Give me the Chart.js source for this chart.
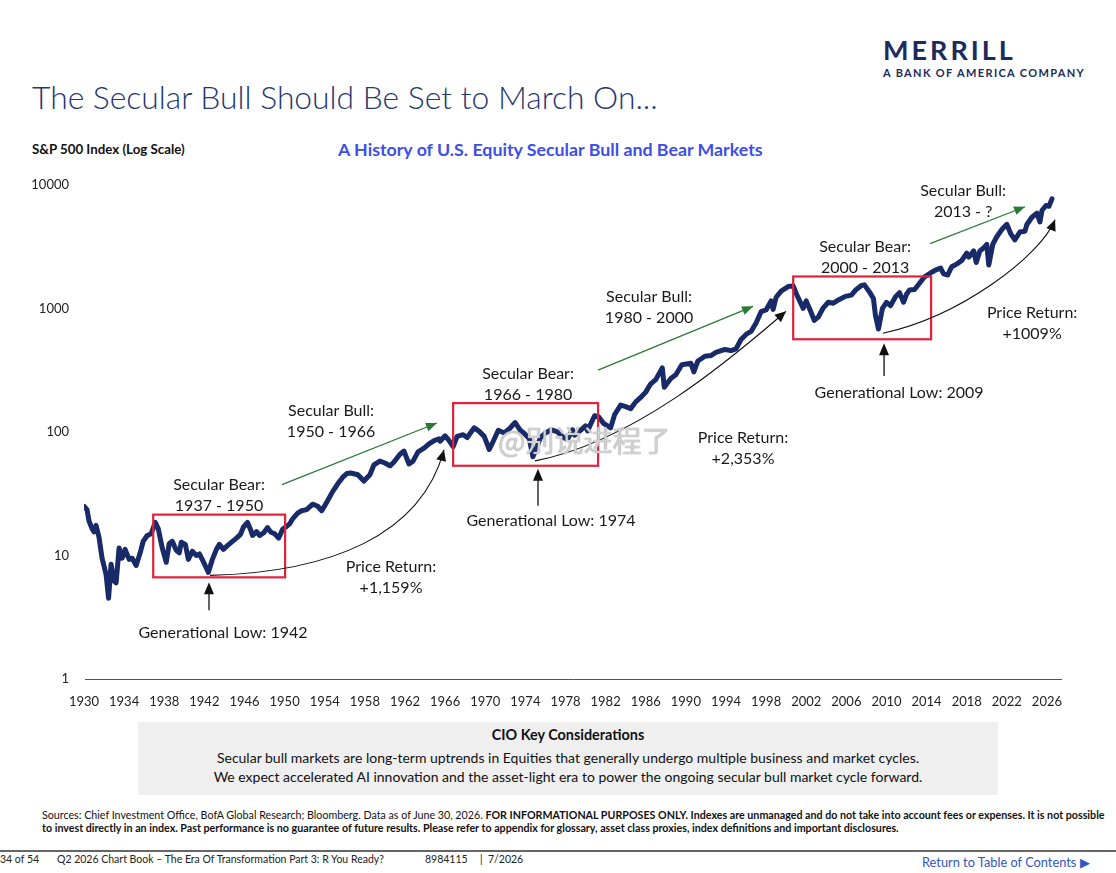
<!DOCTYPE html>
<html>
<head>
<meta charset="utf-8">
<script src="https://cdn.jsdelivr.net/npm/chart.js@4.4.1/dist/chart.umd.min.js"></script>
<style>
  body { margin: 0; background: #fff; font-family: Lato, "Open Sans", sans-serif; }
  #page { position: relative; width: 1116px; height: 873px; overflow: hidden; }
  .abs { position: absolute; white-space: nowrap; }
  #logo1 { left: 883px; top: 33px; font-size: 27px; font-weight: 700; letter-spacing: 3px; color: #1d2a5c; }
  #logo2 { left: 883px; top: 66px; font-size: 11px; font-weight: 700; letter-spacing: 1.35px; color: #1d2a5c; }
  #title { left: 32px; top: 78px; font-size: 31.8px; font-weight: 300; color: #1f3870; }
  #ylab { left: 32px; top: 141px; font-size: 13.3px; font-weight: 700; color: #111; }
  #sub { left: 338px; top: 138px; font-size: 17.8px; font-weight: 700; color: #3d4fe6; }
  #c { position: absolute; left: 0; top: 170px; }
  #wm { left: 498px; top: 418px; font-family: "Noto Sans CJK SC", sans-serif; font-size: 29px; color: rgba(255,255,255,0.55);
        text-shadow: 0 0 1px #999, 0 0 1px #999; }
  #cio { left: 138px; top: 722px; width: 860px; height: 73px; background: #efefef; text-align: center; color: #111; font-size: 14px; line-height: 19px; }
  #cio .h { font-weight: 700; margin-top: 3px; font-size: 14.4px; }
  #cio .l { margin-top: 4px; }
  #cio .l2 { margin-top: 0; }
  #src { left: 42px; top: 808px; font-size: 10.7px; color: #111; line-height: 13px; }
  #rule { left: 0; top: 850px; width: 1116px; height: 2px; background: #666; }
  .foot { top: 853px; font-size: 10.5px; color: #222; }
  #toc { left: 922px; top: 854px; font-size: 12.8px; color: #2f55c8; }
</style>
</head>
<body>
<div id="page">
  <div class="abs" id="logo1">MERRILL</div>
  <div class="abs" id="logo2">A BANK OF AMERICA COMPANY</div>
  <div class="abs" id="title">The Secular Bull Should Be Set to March On...</div>
  <div class="abs" id="ylab">S&amp;P 500 Index (Log Scale)</div>
  <div class="abs" id="sub">A History of U.S. Equity Secular Bull and Bear Markets</div>
  <canvas id="c" width="1116" height="540"></canvas>
  <div class="abs" id="wm">@别说进程了</div>
  <div class="abs" id="cio">
    <div class="h">CIO Key Considerations</div>
    <div class="l">Secular bull markets are long-term uptrends in Equities that generally undergo multiple business and market cycles.</div>
    <div class="l2">We expect accelerated AI innovation and the asset-light era to power the ongoing secular bull market cycle forward.</div>
  </div>
  <div class="abs" id="src">Sources: Chief Investment Office, BofA Global Research; Bloomberg. Data as of June 30, 2026. <b>FOR INFORMATIONAL PURPOSES ONLY. Indexes are unmanaged and do not take into account fees or expenses. It is not possible</b><br><b>to invest directly in an index. Past performance is no guarantee of future results. Please refer to appendix for glossary, asset class proxies, index definitions and important disclosures.</b></div>
  <div class="abs" id="rule"></div>
  <div class="abs foot" style="left:0">34 of 54</div>
  <div class="abs foot" style="left:57px">Q2 2026 Chart Book – The Era Of Transformation Part 3: R You Ready?</div>
  <div class="abs foot" style="left:425px">8984115</div>
  <div class="abs foot" style="left:480px">| &nbsp;7/2026</div>
  <div class="abs" id="toc">Return to Table of Contents ▶</div>
</div>
<script>
// S&P 500 level (decimal year, index level)
const years = [
  1930.0, 1930.3, 1930.5, 1930.8, 1931.0, 1931.2, 1931.5, 1931.8, 1932.0, 1932.2,
  1932.45, 1932.7, 1933.0, 1933.2, 1933.5, 1933.8, 1934.1, 1934.5, 1934.8, 1935.2,
  1935.6, 1935.9, 1936.3, 1936.7, 1937.1, 1937.4, 1937.8, 1938.2, 1938.5, 1938.8,
  1939.2, 1939.5, 1939.7, 1940.1, 1940.4, 1940.8, 1941.2, 1941.5, 1941.9, 1942.4,
  1942.8, 1943.2, 1943.5, 1943.9, 1944.3, 1944.8, 1945.2, 1945.6, 1945.9, 1946.3,
  1946.6, 1946.8, 1947.2, 1947.5, 1947.9, 1948.3, 1948.6, 1949.0, 1949.4, 1949.8,
  1950.2, 1950.5, 1950.8, 1951.3, 1951.7, 1952.2, 1952.8, 1953.3, 1953.7, 1954.2,
  1954.8, 1955.3, 1955.8, 1956.2, 1956.6, 1957.3, 1957.9, 1958.5, 1958.9, 1959.5,
  1960.0, 1960.5, 1960.9, 1961.5, 1961.9, 1962.4, 1962.8, 1963.3, 1963.9, 1964.4,
  1964.9, 1965.4, 1965.5, 1966.0, 1966.4, 1966.8, 1967.2, 1967.8, 1968.2, 1968.9,
  1969.4, 1969.9, 1970.4, 1970.8, 1971.3, 1971.9, 1972.5, 1972.98, 1973.5, 1973.9,
  1974.4, 1974.75, 1975.0, 1975.5, 1976.0, 1976.6, 1977.2, 1977.8, 1978.2, 1978.7,
  1978.9, 1979.5, 1980.0, 1980.2, 1980.9, 1981.3, 1981.8, 1982.5, 1982.9, 1983.5,
  1984.0, 1984.5, 1985.0, 1985.5, 1986.0, 1986.5, 1987.0, 1987.65, 1987.85, 1988.5,
  1989.0, 1989.6, 1990.5, 1990.8, 1991.2, 1991.9, 1992.5, 1993.0, 1993.9, 1994.5,
  1995.0, 1995.5, 1996.0, 1996.5, 1997.0, 1997.5, 1998.0, 1998.5, 1998.7, 1999.0,
  1999.5, 2000.2, 2000.7, 2001.0, 2001.7, 2002.0, 2002.5, 2002.8, 2003.2, 2003.7,
  2004.2, 2004.7, 2005.3, 2005.9, 2006.5, 2006.9, 2007.5, 2007.8, 2008.3, 2008.7,
  2008.9, 2009.2, 2009.6, 2010.0, 2010.4, 2010.9, 2011.3, 2011.7, 2012.0, 2012.3,
  2012.8, 2013.2, 2013.8, 2014.5, 2015.0, 2015.4, 2015.7, 2016.1, 2016.5, 2017.0,
  2017.5, 2018.0, 2018.2, 2018.7, 2018.95, 2019.3, 2019.8, 2020.0, 2020.2, 2020.6,
  2021.0, 2021.5, 2022.0, 2022.4, 2022.8, 2023.3, 2023.8, 2024.0, 2024.5, 2025.0,
  2025.3, 2025.5, 2025.9, 2026.2, 2026.5
];
const spx = [
  25, 23.5, 19, 16.5, 15.5, 17.5, 14, 9.5, 8.2, 7,
  4.5, 8.5, 6.2, 6, 11.5, 9.5, 11.2, 9.3, 9.5, 8.3,
  10.5, 13, 14.5, 15, 18.5, 16.5, 11.5, 8.8, 12.5, 13,
  11, 10.5, 12.8, 12.3, 9.3, 10.8, 10, 10.3, 8.9, 7.3,
  9.3, 11.2, 12.3, 11.2, 12, 13, 13.8, 14.8, 17, 18.5,
  16.2, 14.5, 15.6, 14.5, 15.2, 16.8, 15.5, 15, 13.8, 16.3,
  17.2, 18, 19.8, 22, 23, 23.5, 26, 25, 23, 27,
  33, 38, 43, 46, 46.5, 45, 40, 45, 54, 58,
  56, 53, 57, 66, 70, 55, 58, 69, 74, 80,
  85, 88, 84, 93, 85, 76, 92, 95, 90, 108,
  101, 92, 72, 84, 103, 98, 108, 119, 103, 97,
  88, 63, 70, 90, 98, 104, 100, 90, 87, 104,
  94, 103, 112, 102, 135, 133, 117, 108, 138, 165,
  160, 154, 175, 190, 210, 245, 265, 330, 230, 270,
  290, 350, 360, 306, 375, 410, 415, 440, 465, 455,
  470, 560, 615, 650, 760, 940, 970, 1150, 980, 1230,
  1380, 1500, 1520, 1320, 1000, 1150, 920, 800, 850, 1010,
  1120, 1100, 1180, 1250, 1280, 1400, 1530, 1550, 1360, 1200,
  880, 680, 1000, 1120, 1050, 1240, 1340, 1120, 1300, 1410,
  1420, 1560, 1800, 1960, 2060, 2120, 1900, 1860, 2170, 2280,
  2440, 2800, 2600, 2920, 2350, 2900, 3150, 3300, 2240, 3300,
  3800, 4350, 4790, 4000, 3580, 4150, 4200, 4770, 5460, 5900,
  5000, 6200, 6800, 6700, 7700
];
const xTickYears = [1930, 1934, 1938, 1942, 1946, 1950, 1954, 1958, 1962, 1966, 1970, 1974, 1978,
  1982, 1986, 1990, 1994, 1998, 2002, 2006, 2010, 2014, 2018, 2022, 2026];
const yTickValues = [1, 10, 100, 1000, 10000];

// annotation layout, in axis units (year, index level)
const boxes = [ // [x0, x1, yLow, yHigh]
  [1936.9, 1950.05, 6.65, 21.4],
  [1966.8, 1981.25, 53.2, 171],
  [2000.7, 2014.45, 562, 1811]
];
const lowArrows = [ // [x, yFrom, yTip]
  [1942.46, 3.6, 6.06],
  [1975.26, 25.3, 50.3],
  [2009.76, 283, 522]
];
const returnCurves = [ // start, cp1, cp2, end
  [[1942.56, 6.9], [1954.53, 7.29], [1963.6, 14.5], [1965.89, 71.6]],
  [[1974.96, 58.3], [1985.43, 84.6], [1995.9, 494], [1999.99, 946]],
  [[2009.66, 629], [2017.34, 861], [2025.31, 2626], [2026.81, 5220]]
];
const bullArrows = [
  [[1949.74, 37.4], [1965.19, 118]],
  [[1981.25, 316], [1996.7, 1038]],
  [[2014.35, 3343], [2023.82, 6650]]
];
const labels = [ // [x, y of first line, line1, line2]
  [1943.46, 37.4, "Secular Bear:", "1937 - 1950"],
  [1954.63, 147.6, "Secular Bull:", "1950 - 1966"],
  [1960.61, 8.15, "Price Return:", "+1,159%"],
  [1974.27, 293.6, "Secular Bear:", "1966 - 1980"],
  [1986.33, 1250, "Secular Bull:", "1980 - 2000"],
  [1995.7, 89.5, "Price Return:", "+2,353%"],
  [2007.87, 3162, "Secular Bear:", "2000 - 2013"],
  [2017.64, 8950, "Secular Bull:", "2013 - ?"],
  [2024.52, 928, "Price Return:", "+1009%"],
  [1943.86, 2.35, "Generational Low: 1942", null],
  [1976.56, 19.15, "Generational Low: 1974", null],
  [2011.26, 206.5, "Generational Low: 2009", null]
];

const points = years.map((yr, i) => ({ x: yr, y: spx[i] }));

function arrowHead(ctx, fx, fy, tx, ty, len, half) {
  const a = Math.atan2(ty - fy, tx - fx);
  ctx.beginPath();
  ctx.moveTo(tx, ty);
  ctx.lineTo(tx - len * Math.cos(a) + half * Math.sin(a), ty - len * Math.sin(a) - half * Math.cos(a));
  ctx.lineTo(tx - len * Math.cos(a) - half * Math.sin(a), ty - len * Math.sin(a) + half * Math.cos(a));
  ctx.closePath();
  ctx.fill();
}

const annotations = {
  id: "annotations",
  beforeDatasetsDraw(chart) {
    // x axis line at the bottom of the log scale
    const { ctx, chartArea } = chart;
    const y0 = Math.round(chart.scales.y.getPixelForValue(1)) + 0.5;
    ctx.save();
    ctx.strokeStyle = "#555";
    ctx.lineWidth = 1;
    ctx.beginPath();
    ctx.moveTo(chartArea.left + 1, y0);
    ctx.lineTo(chartArea.right, y0);
    ctx.stroke();
    ctx.restore();
  },
  afterDatasetsDraw(chart) {
    const { ctx } = chart;
    const xs = chart.scales.x, ys = chart.scales.y;
    const px = v => xs.getPixelForValue(v);
    const py = v => ys.getPixelForValue(v);
    ctx.save();

    // red boxes
    ctx.strokeStyle = "#e2223b";
    ctx.lineWidth = 2.2;
    boxes.forEach(b => {
      ctx.strokeRect(px(b[0]), py(b[3]), px(b[1]) - px(b[0]), py(b[2]) - py(b[3]));
    });

    // generational low arrows
    ctx.strokeStyle = "#111";
    ctx.fillStyle = "#111";
    ctx.lineWidth = 1.3;
    lowArrows.forEach(a => {
      const x = px(a[0]);
      ctx.beginPath();
      ctx.moveTo(x, py(a[1]));
      ctx.lineTo(x, py(a[2]) + 8);
      ctx.stroke();
      arrowHead(ctx, x, py(a[1]), x, py(a[2]), 12, 5);
    });

    // price return curves
    ctx.lineWidth = 1.1;
    returnCurves.forEach(c => {
      const p = c.map(q => [px(q[0]), py(q[1])]);
      ctx.beginPath();
      ctx.moveTo(p[0][0], p[0][1]);
      ctx.bezierCurveTo(p[1][0], p[1][1], p[2][0], p[2][1], p[3][0], p[3][1]);
      ctx.stroke();
      arrowHead(ctx, p[2][0], p[2][1], p[3][0], p[3][1], 11, 5);
    });

    // green bull arrows
    ctx.strokeStyle = "#2a7a34";
    ctx.fillStyle = "#2a7a34";
    ctx.lineWidth = 1.2;
    bullArrows.forEach(g => {
      const x0 = px(g[0][0]), y0 = py(g[0][1]), x1 = px(g[1][0]), y1 = py(g[1][1]);
      ctx.beginPath();
      ctx.moveTo(x0, y0);
      ctx.lineTo(x1, y1);
      ctx.stroke();
      arrowHead(ctx, x0, y0, x1, y1, 11, 4.5);
    });

    // labels
    ctx.fillStyle = "#1a1a1a";
    ctx.font = "16px Lato, 'Open Sans', sans-serif";
    ctx.textAlign = "center";
    ctx.textBaseline = "middle";
    labels.forEach(l => {
      const x = px(l[0]), y = py(l[1]);
      ctx.fillText(l[2], x, y);
      if (l[3]) ctx.fillText(l[3], x, y + 21);
    });
    ctx.restore();
  }
};

new Chart(document.getElementById("c"), {
  type: "line",
  data: {
    datasets: [{
      data: points,
      borderColor: "#182a68",
      borderWidth: 5,
      pointRadius: 0,
      tension: 0,
      borderJoinStyle: "round",
      borderCapStyle: "round"
    }]
  },
  options: {
    responsive: false,
    animation: false,
    devicePixelRatio: 1,
    layout: { padding: { top: 5, right: 54, left: 0, bottom: 0 } },
    plugins: { legend: { display: false }, tooltip: { enabled: false } },
    scales: {
      x: {
        type: "linear",
        min: 1930,
        max: 2027.5,
        grid: { display: false },
        border: { display: false },
        ticks: {
          color: "#222",
          font: { family: "Lato", size: 13 },
          padding: 7,
          maxRotation: 0,
          autoSkip: false,
          callback: v => String(v)
        },
        afterBuildTicks: s => { s.ticks = xTickYears.map(v => ({ value: v })); },
        afterFit: s => { s.height = 31; }
      },
      y: {
        type: "logarithmic",
        min: 1,
        max: 10000,
        grid: { display: false },
        border: { display: false },
        ticks: {
          color: "#222",
          font: { family: "Lato", size: 13 },
          padding: 7,
          callback: v => String(v)
        },
        afterBuildTicks: s => { s.ticks = yTickValues.map(v => ({ value: v })); },
        afterFit: s => { s.width = 84; }
      }
    }
  },
  plugins: [annotations]
});
</script>
</body>
</html>
